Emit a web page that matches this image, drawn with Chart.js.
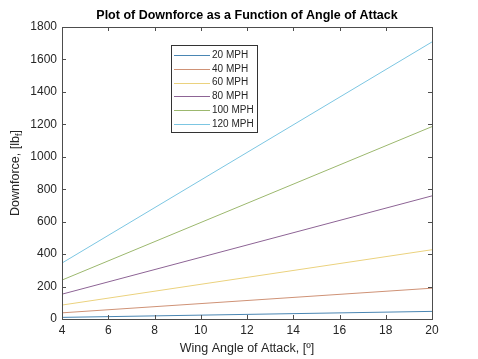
<!DOCTYPE html>
<html><head><meta charset="utf-8">
<script src="https://cdn.jsdelivr.net/npm/chart.js@4"></script>
<style>html,body{margin:0;padding:0;background:#fff}#w{width:478px;height:359px}</style>
</head><body><div id="w"><canvas id="c" width="478" height="359"></canvas></div>
<script>
const angles = [4, 20];
const seriesLabels = ["20 MPH", "40 MPH", "60 MPH", "80 MPH", "100 MPH", "120 MPH"];
const mph20 = [10, 47];
const mph40 = [38, 190];
const mph60 = [86, 427];
const mph80 = [153, 759];
const mph100 = [240, 1186];
const mph120 = [345, 1708];
const xTicks = [4, 6, 8, 10, 12, 14, 16, 18, 20];
const yTicks = [0, 200, 400, 600, 800, 1000, 1200, 1400, 1600, 1800];
const colors = ["#4a86b3", "#cf9276", "#ebd27e", "#8d6495", "#9cb86e", "#7cc6e2"];
const allSeries = [mph20, mph40, mph60, mph80, mph100, mph120];

const FONT = "Liberation Sans, Arial, Helvetica, sans-serif";
const datasets = allSeries.map((s, i) => ({
  label: seriesLabels[i],
  data: s.map((v, j) => ({x: angles[j], y: v})),
  borderColor: colors[i], borderWidth: 1, pointRadius: 0, fill: false, tension: 0
}));

const deco = {
  id: 'deco',
  afterDraw(chart) {
    const ctx = chart.ctx, a = chart.chartArea;
    const xs = chart.scales.x, ys = chart.scales.y;
    ctx.save();
    ctx.strokeStyle = "#4d4d4d"; ctx.lineWidth = 1;
    ctx.strokeRect(Math.round(a.left) + 0.5, Math.round(a.top) + 0.5, Math.round(a.right - a.left), Math.round(a.bottom - a.top));
    ctx.beginPath();
    xTicks.forEach(t => {
      const px = Math.round(xs.getPixelForValue(t)) + 0.5;
      ctx.moveTo(px, a.bottom); ctx.lineTo(px, a.bottom - 4);
      ctx.moveTo(px, a.top); ctx.lineTo(px, a.top + 4);
    });
    yTicks.forEach(t => {
      const py = Math.round(ys.getPixelForValue(t)) + 0.5;
      ctx.moveTo(a.left, py); ctx.lineTo(a.left + 4, py);
      ctx.moveTo(a.right, py); ctx.lineTo(a.right - 4, py);
    });
    ctx.stroke();
    // title
    ctx.fillStyle = "#000";
    ctx.font = "bold 12.5px " + FONT;
    ctx.textAlign = "center"; ctx.textBaseline = "middle";
    ctx.fillText("Plot of Downforce as a Function of Angle of Attack", (a.left + a.right) / 2, 16);
    // x title
    ctx.fillStyle = "#262626";
    ctx.font = "12.5px " + FONT;
    ctx.fillText("Wing Angle of Attack, [º]", (a.left + a.right) / 2, 349);
    // y title with subscript
    ctx.save();
    ctx.translate(16, (a.top + a.bottom) / 2);
    ctx.rotate(-Math.PI / 2);
    const p1 = "Downforce, [lb", p3 = "]";
    ctx.font = "12.5px " + FONT; const w1 = ctx.measureText(p1).width;
    ctx.font = "9px " + FONT; const w2 = ctx.measureText("f").width;
    ctx.font = "12.5px " + FONT; const w3 = ctx.measureText(p3).width;
    let x0 = -(w1 + w2 + w3) / 2;
    ctx.textAlign = "left";
    ctx.fillText(p1, x0, 0);
    ctx.font = "9px " + FONT; ctx.fillText("f", x0 + w1, 4);
    ctx.font = "12.5px " + FONT; ctx.fillText(p3, x0 + w1 + w2, 0);
    ctx.restore();
    // legend
    const lx = 171, ly = 45, lw = 86, lh = 87;
    ctx.fillStyle = "#fff";
    ctx.fillRect(lx, ly, lw, lh);
    ctx.strokeStyle = "#333"; ctx.lineWidth = 1;
    ctx.strokeRect(lx + 0.5, ly + 0.5, lw, lh);
    ctx.font = "10px " + FONT; ctx.textAlign = "left"; ctx.textBaseline = "middle";
    chart.data.datasets.forEach((d, i) => {
      const yy = ly + 10 + i * 13.8;
      ctx.strokeStyle = d.borderColor; ctx.beginPath();
      ctx.moveTo(lx + 3, Math.round(yy) + 0.5); ctx.lineTo(lx + 39, Math.round(yy) + 0.5); ctx.stroke();
      ctx.fillStyle = "#262626";
      ctx.fillText(d.label, lx + 41, yy);
    });
    ctx.restore();
  }
};

new Chart(document.getElementById('c'), {
  type: 'line',
  data: { datasets },
  plugins: [deco],
  options: {
    responsive: false, animation: false,
    layout: { padding: { top: 27, right: 46, left: 0, bottom: 0 } },
    plugins: { legend: { display: false }, title: { display: false }, tooltip: { enabled: false } },
    scales: {
      x: {
        type: 'linear', min: 4, max: 20,
        afterBuildTicks: s => { s.ticks = xTicks.map(v => ({value: v})); },
        afterFit: s => { s.height = 40; },
        grid: { display: false, drawTicks: false },
        border: { display: false },
        ticks: { color: "#262626", font: { family: FONT, size: 12 }, padding: 4, maxRotation: 0, autoSkip: false, callback: v => String(v) }
      },
      y: {
        type: 'linear', min: 0, max: 1800,
        afterBuildTicks: s => { s.ticks = yTicks.map(v => ({value: v})); },
        afterFit: s => { s.width = 62; },
        grid: { display: false, drawTicks: false },
        border: { display: false },
        ticks: { color: "#262626", font: { family: FONT, size: 12 }, padding: 5, autoSkip: false, callback: v => String(v) }
      }
    }
  }
});
</script>
</body></html>
